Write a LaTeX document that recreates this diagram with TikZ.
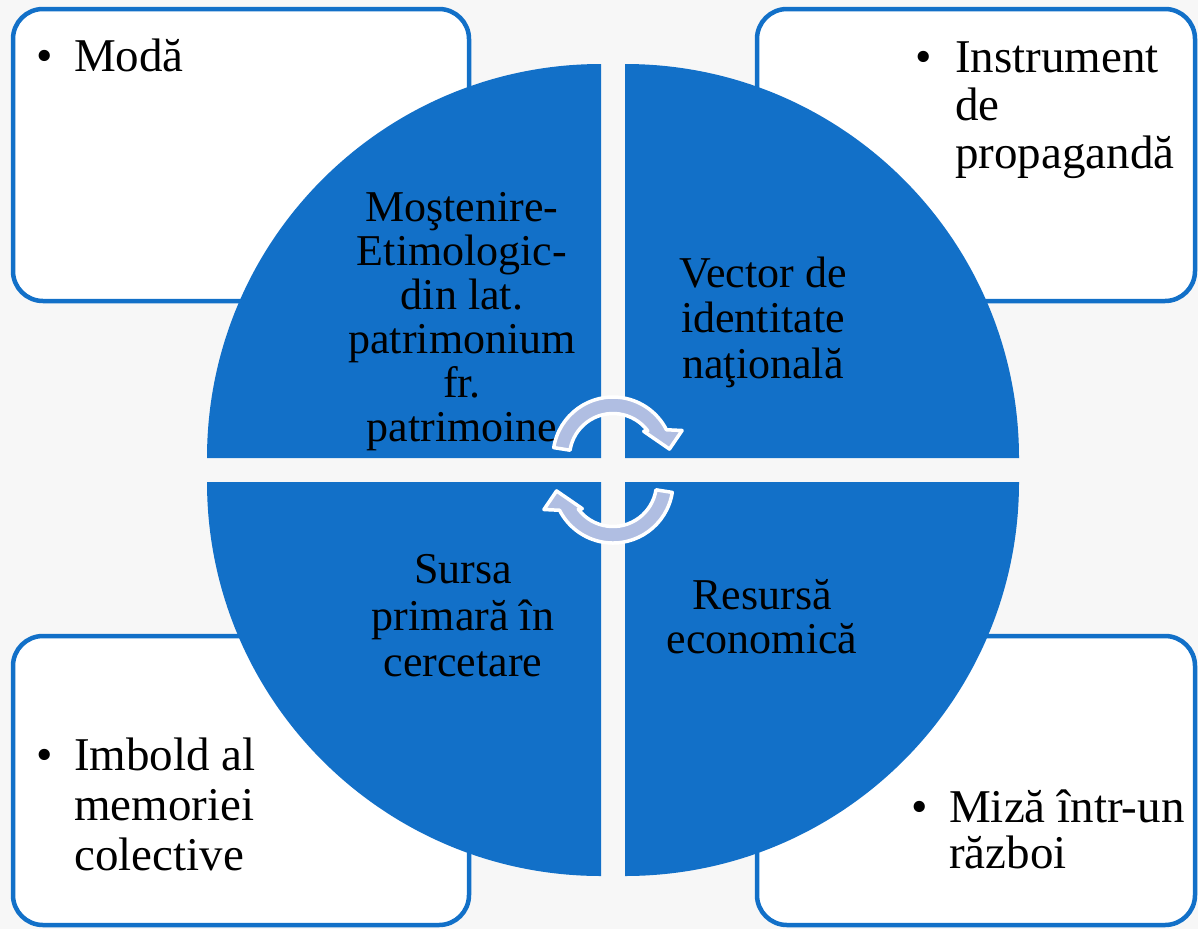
\documentclass[tikz,border=0pt]{standalone}
\usepackage{fontspec}
\setmainfont{Liberation Serif}
\usetikzlibrary{calc}
\definecolor{qblue}{RGB}{18,112,200}
\definecolor{bgc}{RGB}{247,247,247}
\definecolor{arrowc}{RGB}{176,190,226}
\begin{document}
\begin{tikzpicture}[x=1pt,y=-1pt,
  box/.style={draw=qblue, line width=4.5pt, fill=white, rounded corners=30pt},
  quad/.style={fill=qblue},
  outtext/.style={anchor=base west, inner sep=0pt, font=\fontsize{47}{48}\selectfont},
  intext/.style={align=center, inner sep=0pt, anchor=center},
  cyc/.style={fill=arrowc, draw=white, line width=3.5pt, line join=round}
]
\path[fill=bgc] (0,0) rectangle (1198,929);
\useasboundingbox (0,0) rectangle (1198,929);

% corner boxes
\draw[box] (13,9) rectangle (469,301);
\draw[box] (757,9) rectangle (1195,301);
\draw[box] (13,636) rectangle (469,925);
\draw[box] (757,636) rectangle (1195,925);

% outer texts
\node[outtext] (moda) at (36,71) {\makebox[38pt][l]{\textbullet}Modă};
\node[outtext] (instr) at (915,72) {\makebox[40pt][l]{\textbullet}\begin{tabular}[t]{@{}l@{}}Instrument\\de\\propagandă\end{tabular}};
\node[outtext, font=\fontsize{47}{50}\selectfont] (imbold) at (36,770) {\makebox[38pt][l]{\textbullet}\begin{tabular}[t]{@{}l@{}}Imbold al\\memoriei\\colective\end{tabular}};
\node[outtext, font=\fontsize{47}{46.5}\selectfont] (miza) at (911,822) {\makebox[38pt][l]{\textbullet}\begin{tabular}[t]{@{}l@{}}Miză într-un\\război\end{tabular}};

% quadrants
\fill[quad] (601,458) -- (207,458) arc[start angle=180, end angle=270, radius=394] -- cycle;
\fill[quad] (625,458) -- (625,64) arc[start angle=270, end angle=360, radius=394] -- cycle;
\fill[quad] (625,482) -- (1019,482) arc[start angle=0, end angle=90, radius=394] -- cycle;
\fill[quad] (601,482) -- (601,876) arc[start angle=90, end angle=180, radius=394] -- cycle;

% inner texts
\node[intext, font=\fontsize{44}{44}\selectfont] (most) at (462,322) {Moştenire-\\Etimologic-\\din lat.\\patrimonium\\fr.\\patrimoine};
\node[intext, font=\fontsize{44}{45.5}\selectfont] (vect) at (763,322) {Vector de\\identitate\\naţională};
\node[intext, font=\fontsize{44}{46.5}\selectfont] (surs) at (463,616) {Sursa\\primară în\\cercetare};
\node[intext, font=\fontsize{44}{44}\selectfont] (res) at (762,617) {Resursă\\economică};

% circular arrows
\coordinate (c1) at (613,457);
\coordinate (c2) at (613,483);
\filldraw[cyc] ($(c1)+(-171:60)$) arc[start angle=-171, end angle=-27, radius=60]
  -- ($(c1)+(-21:74)$) -- ($(c1)+(-8:57)$) -- ($(c1)+(-40:40)$)
  -- ($(c1)+(-37:43.5)$) arc[start angle=-37, end angle=-171, radius=43.5] -- cycle;
\filldraw[cyc] ($(c2)+(-351:60)$) arc[start angle=-351, end angle=-207, radius=60]
  -- ($(c2)+(-201:74)$) -- ($(c2)+(-188:57)$) -- ($(c2)+(-220:40)$)
  -- ($(c2)+(-217:43.5)$) arc[start angle=-217, end angle=-351, radius=43.5] -- cycle;
\end{tikzpicture}
\end{document}
